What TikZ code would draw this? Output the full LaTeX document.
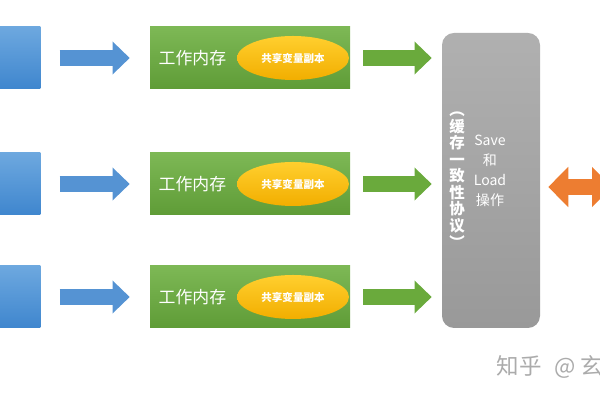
\documentclass[tikz,border=0pt]{standalone}
\usepackage{fontspec}
\setmainfont{Noto Sans CJK SC}
\usepackage{xcolor}
\usetikzlibrary{arrows.meta,positioning,shapes.geometric}

\definecolor{threadtop}{HTML}{6DA8DF}
\definecolor{threadbot}{HTML}{3F86CE}
\definecolor{worktop}{HTML}{7DB855}
\definecolor{workbot}{HTML}{5F9C37}
\definecolor{copytop}{HTML}{FFCF2E}
\definecolor{copybot}{HTML}{F2AE00}
\definecolor{prototop}{HTML}{B0B0B0}
\definecolor{protobot}{HTML}{999999}
\definecolor{bluearr}{HTML}{5593D3}
\definecolor{greenarr}{HTML}{6AAA3C}
\definecolor{orangearr}{HTML}{ED7D31}

\begin{document}
\begin{tikzpicture}[
  thread/.style={rectangle, minimum width=1.5cm, minimum height=1.55cm,
    top color=threadtop, bottom color=threadbot},
  work/.style={rectangle, minimum width=5cm, minimum height=1.55cm,
    top color=worktop, bottom color=workbot},
  copy/.style={ellipse, minimum width=2.8cm, minimum height=1.1cm, inner sep=0pt,
    top color=copytop, bottom color=copybot, text=white,
    font=\fontsize{7.5pt}{9pt}\selectfont\bfseries},
  proto/.style={rectangle, rounded corners=0.3cm, minimum width=2.45cm,
    minimum height=7.375cm, top color=prototop, bottom color=protobot},
  blockarr/.style={line width=0.4cm, -{Triangle[length=0.43cm, width=0.8cm]}},
]
\useasboundingbox (0,0) rectangle (15,10);
\clip (0,0) rectangle (15,10);

% cache coherence box
\node[proto] (proto) at (12.275,5.4875) {};
\node[text=white, align=center, font=\fontsize{11pt}{11.8pt}\selectfont\bfseries]
  (mesi) at (11.425,5.5) {︵\\缓\\存\\一\\致\\性\\协\\议\\︶};
\node[text=white, align=center, font=\fontsize{10pt}{14.2pt}\selectfont]
  (ops) at (12.25,5.74) {Save\\和\\Load\\操作};

% three rows: thread -> working memory -> protocol
\foreach \i/\y in {1/8.55,2/5.4,3/2.575} {
  \node[thread] (thread\i) at (0.26,\y) {};
  \node[work] (work\i) at (6.25,\y) {};
  \node[anchor=west, text=white, font=\fontsize{12pt}{13pt}\selectfont]
    (label\i) at ([xshift=0.1cm]work\i.west) {工作内存};
  \node[copy] (copy\i) at (7.325,\y) {共享变量副本};
  \draw[blockarr, bluearr, shorten <=0.475cm, shorten >=0.5cm]
    (thread\i.east) -- (work\i.west);
  \draw[blockarr, greenarr, shorten <=0.325cm, shorten >=0.25cm]
    (work\i.east) -- (work\i.east -| proto.west);
}

% link to main memory (off the right edge)
\coordinate (mem) at (15.3,5.325);
\draw[orangearr, line width=0.38cm,
  {Triangle[length=0.5cm, width=0.98cm]}-{Triangle[length=0.5cm, width=0.98cm]},
  shorten <=0.2cm] (proto.east |- mem) -- (mem);

% watermark
\node[anchor=west, text=black!33, font=\fontsize{16pt}{18pt}\selectfont]
  (mark) at (12.3,0.825) {知乎\hspace{0.55em}@\hspace{0.2em}玄};
\end{tikzpicture}
\end{document}
